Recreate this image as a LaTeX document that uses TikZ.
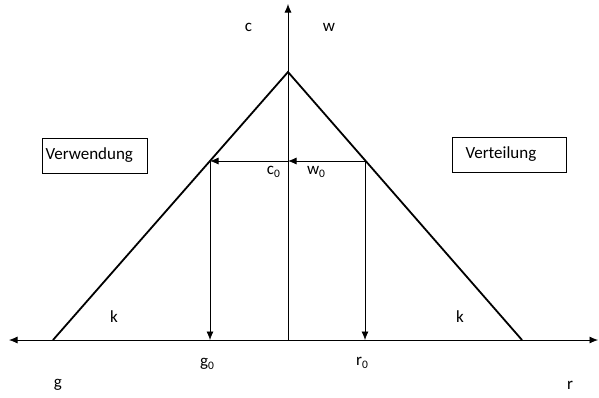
\documentclass[tikz,border=0pt]{standalone}
\usepackage{fontspec}
\setmainfont{Carlito}
\usetikzlibrary{arrows.meta}
\newcommand{\subz}{\raisebox{-0.3ex}{\fontsize{11.5}{11.5}\selectfont 0}}
\begin{document}
\begin{tikzpicture}[x=1pt,y=-1pt,
  thinline/.style={line width=0.8pt},
  legline/.style={line width=1.8pt},
  arr/.style={-{Latex[length=8.5pt,width=7pt]}},
  lbl/.style={font=\fontsize{17}{19}\selectfont, inner sep=0pt},
  boxlbl/.style={draw, line width=0.8pt, font=\fontsize{17}{19}\selectfont, minimum height=35pt, inner ysep=0pt, align=left}]
\useasboundingbox (0,0) rectangle (599,397);
% coordinates
\coordinate (O) at (288,340);
\coordinate (top) at (288,4);
\coordinate (left) at (9,340);
\coordinate (right) at (598,340);
\coordinate (apex) at (288,72);
\coordinate (gl) at (53,340);
\coordinate (rr) at (522,340);
\coordinate (cl) at (210,161);
\coordinate (cm) at (288,161);
\coordinate (cr) at (365,161);
\coordinate (g0) at (210,340);
\coordinate (r0) at (365,340);
% axes
\draw[thinline,arr] (O) -- (top);
\draw[thinline,arr] (O) -- (left);
\draw[thinline,arr] (O) -- (right);
% legs
\draw[legline] (gl) -- (apex) -- (rr);
% projections
\draw[thinline,arr] (cr) -- (cm);
\draw[thinline,arr] (cm) -- (cl);
\draw[thinline,arr] (cl) -- (g0);
\draw[thinline,arr] (cr) -- (r0);
% labels
\node[lbl] (lc) at (248.5,27) {c};
\node[lbl] (lw) at (329,27) {w};
\node[lbl] (lc0) at (273.5,172) {c\subz};
\node[lbl] (lw0) at (316,172) {w\subz};
\node[lbl] (lg0) at (207,364) {g\subz};
\node[lbl] (lr0) at (362,363) {r\subz};
\node[lbl] (lg) at (58,385) {g};
\node[lbl] (lr) at (570,385) {r};
\node[lbl] (lk1) at (114,316.5) {k};
\node[lbl] (lk2) at (460,316.5) {k};
\node[boxlbl, inner xsep=3.5pt, text width=98pt] (bv) at (94.5,155.5) {Verwendung};
\node[boxlbl, inner xsep=13.5pt, text width=87pt] (bt) at (509,154.5) {Verteilung};
\end{tikzpicture}
\end{document}
